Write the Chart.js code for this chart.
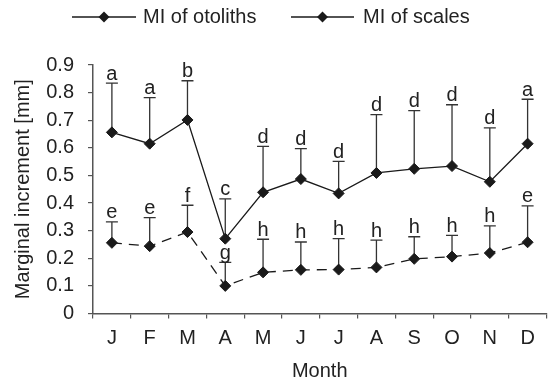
<!DOCTYPE html>
<html>
<head>
<meta charset="utf-8">
<script src="https://cdn.jsdelivr.net/npm/chart.js@4.4.1/dist/chart.umd.min.js"></script>
<style>
html,body{margin:0;padding:0;background:#fff;}
#wrap{width:553px;height:385px;position:relative;}
</style>
</head>
<body>
<div id="wrap"><canvas id="c" width="553" height="385"></canvas></div>
<script>
// ---- data ----
const months = ['J','F','M','A','M','J','J','A','S','O','N','D'];
const otolithMI = [0.656, 0.615, 0.701, 0.271, 0.439, 0.487, 0.435, 0.509, 0.524, 0.534, 0.477, 0.615];
const otolithSD = [0.178, 0.167, 0.142, 0.144, 0.166, 0.110, 0.116, 0.211, 0.211, 0.222, 0.195, 0.161];
const otolithLetters = ['a','a','b','c','d','d','d','d','d','d','d','a'];
const scaleMI = [0.256, 0.244, 0.295, 0.100, 0.149, 0.158, 0.159, 0.167, 0.198, 0.206, 0.219, 0.258];
const scaleSD = [0.076, 0.103, 0.097, 0.085, 0.120, 0.101, 0.112, 0.099, 0.080, 0.077, 0.098, 0.132];
const scaleLetters = ['e','e','f','g','h','h','h','h','h','h','h','e'];
const seriesNames = ['MI of otoliths', 'MI of scales'];
const yTicks = [0, 0.1, 0.2, 0.3, 0.4, 0.5, 0.6, 0.7, 0.8, 0.9];

const FONT = "'Liberation Sans', Arial, sans-serif";
const INK = '#1a1a1a';
const AXIS = '#555555';

const errorBars = {
  id: 'errorBars',
  beforeDatasetsDraw(chart) {
    const ctx = chart.ctx, ys = chart.scales.y;
    ctx.save();
    ctx.strokeStyle = '#333';
    ctx.lineWidth = 1.3;
    chart.data.datasets.forEach((ds, di) => {
      const meta = chart.getDatasetMeta(di);
      meta.data.forEach((pt, i) => {
        const yTop = ys.getPixelForValue(ds.data[i] + ds.sd[i]);
        ctx.beginPath();
        ctx.moveTo(pt.x, pt.y);
        ctx.lineTo(pt.x, yTop);
        ctx.moveTo(pt.x - 6, yTop);
        ctx.lineTo(pt.x + 6, yTop);
        ctx.stroke();
      });
    });
    ctx.restore();
  },
  afterDatasetsDraw(chart) {
    const ctx = chart.ctx, ys = chart.scales.y;
    ctx.save();
    ctx.fillStyle = '#222';
    ctx.font = '20px ' + FONT;
    ctx.textAlign = 'center';
    ctx.textBaseline = 'alphabetic';
    chart.data.datasets.forEach((ds, di) => {
      const meta = chart.getDatasetMeta(di);
      meta.data.forEach((pt, i) => {
        const yTop = ys.getPixelForValue(ds.data[i] + ds.sd[i]);
        ctx.fillText(ds.letters[i], pt.x, yTop - 3.5);
      });
    });
    ctx.restore();
  }
};

const customLegend = {
  id: 'customLegend',
  afterDraw(chart) {
    const ctx = chart.ctx;
    const items = [
      {x0: 72, x1: 136, tx: 143},
      {x0: 291, x1: 354, tx: 363}
    ];
    const y = 17;
    ctx.save();
    chart.data.datasets.forEach((ds, i) => {
      const it = items[i];
      ctx.strokeStyle = INK;
      ctx.lineWidth = 1.3;
      ctx.setLineDash([]);
      ctx.beginPath();
      ctx.moveTo(it.x0, y);
      ctx.lineTo(it.x1, y);
      ctx.stroke();
      const cx = (it.x0 + it.x1) / 2;
      ctx.fillStyle = INK;
      ctx.beginPath();
      ctx.moveTo(cx - 5.5, y);
      ctx.lineTo(cx, y - 5.5);
      ctx.lineTo(cx + 5.5, y);
      ctx.lineTo(cx, y + 5.5);
      ctx.closePath();
      ctx.fill();
      ctx.fillStyle = '#222';
      ctx.font = '20px ' + FONT;
      ctx.textAlign = 'left';
      ctx.textBaseline = 'middle';
      ctx.fillText(ds.label, it.tx, y + 0.5);
    });
    ctx.restore();
  }
};

new Chart(document.getElementById('c'), {
  type: 'line',
  data: {
    labels: months,
    datasets: [
      {
        label: seriesNames[0], data: otolithMI, sd: otolithSD, letters: otolithLetters,
        borderColor: INK, borderWidth: 1.3, backgroundColor: INK,
        pointStyle: 'rectRot', pointRadius: 5.5, pointBackgroundColor: INK, pointBorderColor: INK, pointBorderWidth: 1,
        tension: 0, fill: false
      },
      {
        label: seriesNames[1], data: scaleMI, sd: scaleSD, letters: scaleLetters,
        borderColor: INK, borderWidth: 1.3, backgroundColor: INK, borderDash: [10, 7],
        pointStyle: 'rectRot', pointRadius: 5.5, pointBackgroundColor: INK, pointBorderColor: INK, pointBorderWidth: 1,
        tension: 0, fill: false
      }
    ]
  },
  options: {
    responsive: false,
    animation: false,
    devicePixelRatio: 1,
    layout: { padding: { top: 65, left: 0, right: 0, bottom: 0 } },
    plugins: { legend: { display: false }, tooltip: { enabled: false } },
    scales: {
      x: {
        type: 'category',
        offset: true,
        grid: { display: true, offset: true, drawOnChartArea: false, drawTicks: true, tickLength: 5, color: AXIS, lineWidth: 1.2 },
        border: { display: true, color: AXIS, width: 1.5 },
        ticks: { color: '#222', font: { family: FONT, size: 20 }, padding: 8, autoSkip: false, maxRotation: 0 },
        title: { display: true, text: 'Month', color: '#222', font: { family: FONT, size: 20 }, padding: { top: 0, bottom: 2 } },
        afterFit(s) { s.height = 71.5; }
      },
      y: {
        min: 0, max: 0.9,
        afterBuildTicks(s) { s.ticks = yTicks.map(v => ({ value: v })); },
        grid: { display: true, drawOnChartArea: false, drawTicks: true, tickLength: 5, color: AXIS, lineWidth: 1.2 },
        border: { display: true, color: AXIS, width: 1.5 },
        ticks: { color: '#222', font: { family: FONT, size: 20 }, padding: 14, callback: (v) => String(v) },
        title: { display: true, text: 'Marginal increment [mm]', color: '#222', font: { family: FONT, size: 20 }, padding: { top: 11, bottom: 0 } },
        afterFit(s) { s.width = 93; }
      }
    }
  },
  plugins: [errorBars, customLegend]
});
</script>
</body>
</html>
